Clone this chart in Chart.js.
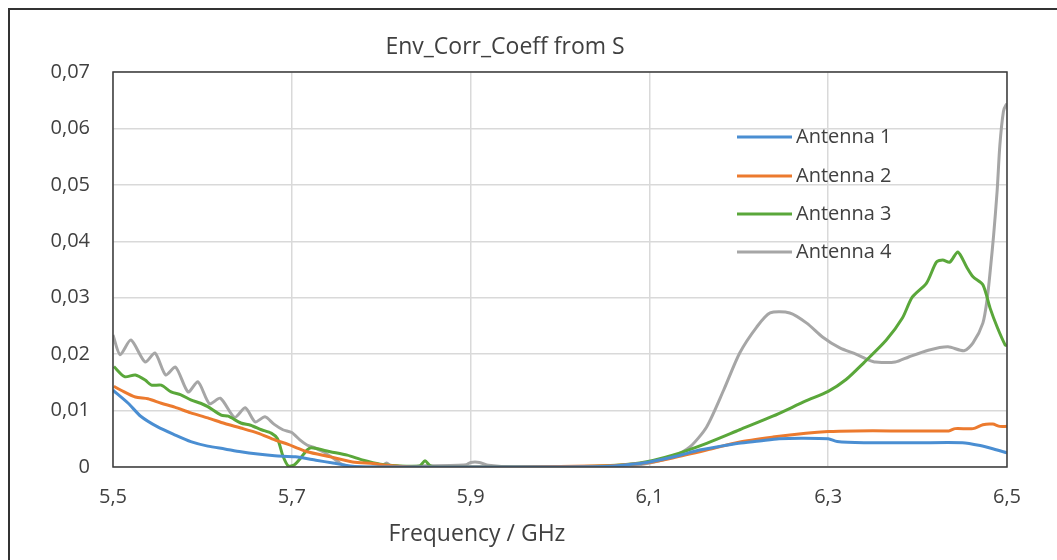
<!DOCTYPE html>
<html>
<head>
<meta charset="utf-8">
<script src="https://cdn.jsdelivr.net/npm/chart.js@4.4.1/dist/chart.umd.min.js"></script>
<style>
  html, body { margin: 0; padding: 0; background: #ffffff; }
  #wrap { width: 1057px; height: 560px; position: relative; }
</style>
</head>
<body>
<div id="wrap"><canvas id="chart" width="1057" height="560"></canvas></div>
<script>
// Envelope correlation coefficient computed from S-parameters, per antenna
const chartTitle = 'Env_Corr_Coeff from S';
const xAxisTitle = 'Frequency / GHz';
const seriesNames = ['Antenna 1', 'Antenna 2', 'Antenna 3', 'Antenna 4'];
const seriesColors = ['#4a8ed2', '#ec7a2e', '#5aa73a', '#a6a6a6'];

const xTicks = [5.5, 5.7, 5.9, 6.1, 6.3, 6.5];
const yTicks = [0, 0.01, 0.02, 0.03, 0.04, 0.05, 0.06, 0.07];

const freq1 = [5.500,5.517,5.531,5.550,5.569,5.587,5.606,5.625,5.643,5.662,5.681,5.704,5.727,5.746,5.765,5.790,5.850,5.950,6.050,6.075,6.100,6.130,6.156,6.180,6.200,6.223,6.245,6.270,6.300,6.310,6.340,6.400,6.450,6.470,6.485,6.500];
const ecc1  = [0.0136,0.0113,0.0090,0.0071,0.0057,0.0045,0.0037,0.0032,0.0027,0.0023,0.0020,0.0018,0.0012,0.0007,0.0002,0.0000,0.0000,0.0000,0.0001,0.0004,0.0009,0.0019,0.0030,0.0037,0.0042,0.0046,0.0050,0.0051,0.0050,0.0045,0.0043,0.0043,0.0043,0.0038,0.0032,0.0025];

const freq2 = [5.501,5.509,5.525,5.539,5.554,5.569,5.587,5.606,5.625,5.643,5.662,5.681,5.696,5.707,5.717,5.743,5.768,5.791,5.806,5.836,5.950,6.050,6.080,6.100,6.126,6.164,6.200,6.238,6.275,6.300,6.330,6.370,6.435,6.442,6.462,6.473,6.484,6.492,6.500];
const ecc2  = [0.0143,0.0136,0.0124,0.0121,0.0113,0.0106,0.0096,0.0087,0.0077,0.0069,0.0060,0.0048,0.0040,0.0033,0.0027,0.0018,0.0009,0.0006,0.0003,0.0000,0.0000,0.0002,0.0005,0.0008,0.0016,0.0030,0.0044,0.0053,0.0060,0.0063,0.0064,0.0064,0.0064,0.0068,0.0068,0.0075,0.0076,0.0072,0.0072];

const freq3 = [5.501,5.513,5.525,5.536,5.543,5.554,5.565,5.576,5.587,5.598,5.606,5.621,5.629,5.643,5.654,5.666,5.677,5.684,5.690,5.696,5.703,5.710,5.717,5.722,5.743,5.762,5.780,5.799,5.818,5.843,5.849,5.855,5.870,6.000,6.050,6.089,6.126,6.164,6.201,6.238,6.275,6.300,6.320,6.340,6.365,6.383,6.394,6.410,6.421,6.428,6.436,6.445,6.455,6.462,6.473,6.481,6.489,6.498,6.500];
const ecc3  = [0.0178,0.0160,0.0163,0.0154,0.0145,0.0145,0.0133,0.0128,0.0119,0.0113,0.0107,0.0092,0.0090,0.0078,0.0074,0.0066,0.0060,0.0050,0.0020,0.0002,0.0004,0.0016,0.0030,0.0034,0.0027,0.0021,0.0012,0.0005,0.0002,0.0002,0.0011,0.0002,0.0000,0.0000,0.0002,0.0007,0.0021,0.0042,0.0066,0.0090,0.0117,0.0134,0.0155,0.0185,0.0225,0.0264,0.0301,0.0326,0.0363,0.0367,0.0363,0.0381,0.0354,0.0337,0.0323,0.0282,0.0248,0.0216,0.0215];

const freq4 = [5.500,5.508,5.520,5.536,5.547,5.559,5.570,5.584,5.595,5.608,5.620,5.636,5.648,5.659,5.670,5.680,5.690,5.700,5.709,5.717,5.724,5.735,5.746,5.757,5.770,5.800,5.806,5.812,5.850,5.895,5.900,5.910,5.920,5.950,6.050,6.089,6.126,6.145,6.164,6.183,6.201,6.220,6.235,6.257,6.276,6.294,6.313,6.331,6.345,6.353,6.375,6.390,6.412,6.434,6.452,6.462,6.473,6.478,6.482,6.485,6.489,6.492,6.496,6.499,6.500];
const ecc4  = [0.0234,0.0199,0.0225,0.0186,0.0202,0.0163,0.0177,0.0133,0.0151,0.0112,0.0122,0.0088,0.0105,0.0080,0.0089,0.0076,0.0066,0.0061,0.0048,0.0039,0.0035,0.0027,0.0016,0.0004,0.0000,0.0001,0.0007,0.0001,0.0002,0.0004,0.0008,0.0008,0.0003,0.0000,0.0001,0.0004,0.0018,0.0035,0.0071,0.0136,0.0202,0.0248,0.0273,0.0273,0.0255,0.0230,0.0211,0.0200,0.0190,0.0186,0.0186,0.0195,0.0207,0.0213,0.0206,0.0220,0.0255,0.0300,0.0360,0.0410,0.0490,0.0570,0.0630,0.0642,0.0640];

const freqs = [freq1, freq2, freq3, freq4];
const values = [ecc1, ecc2, ecc3, ecc4];

const FONT = '"Open Sans", "Noto Sans", sans-serif';
const TEXT = '#404040';

const fmt = v => (Math.abs(v) < 1e-9 ? '0' : Number(v).toFixed(2).replace('.', ','));
const fmtX = v => Number(v).toFixed(1).replace('.', ',');

const datasets = seriesNames.map((name, i) => ({
  label: name,
  data: freqs[i].map((f, k) => ({ x: f, y: values[i][k] })),
  borderColor: seriesColors[i],
  backgroundColor: seriesColors[i],
  borderWidth: 3,
  pointRadius: 0,
  tension: 0.25,
  fill: false
}));

// Frame, titles and in-plot legend
const decor = {
  id: 'decor',
  beforeDraw(chart) {
    const c = chart.ctx;
    c.save();
    c.fillStyle = '#ffffff';
    c.fillRect(0, 0, chart.width, chart.height);
    c.strokeStyle = '#333333';
    c.lineWidth = 2;
    c.beginPath();
    c.moveTo(9, chart.height);
    c.lineTo(9, 9);
    c.lineTo(chart.width, 9);
    c.stroke();
    c.restore();
  },
  afterDraw(chart) {
    const c = chart.ctx;
    const a = chart.chartArea;
    c.save();
    // plot frame
    c.strokeStyle = '#3a3a3a';
    c.lineWidth = 1.5;
    c.strokeRect(a.left, a.top, a.right - a.left, a.bottom - a.top);

    c.fillStyle = TEXT;
    c.textAlign = 'center';
    c.textBaseline = 'middle';
    c.font = '23px ' + FONT;
    c.fillText(chartTitle, 505, 47);
    c.fillText(xAxisTitle, 477, 534);

    // legend
    c.textAlign = 'left';
    c.font = '20px ' + FONT;
    const ly = [137, 176, 214, 252];
    chart.data.datasets.forEach((ds, i) => {
      c.strokeStyle = ds.borderColor;
      c.lineWidth = 3;
      c.beginPath();
      c.moveTo(737, ly[i]);
      c.lineTo(792, ly[i]);
      c.stroke();
      c.fillStyle = TEXT;
      c.fillText(ds.label, 796, ly[i]);
    });
    c.restore();
  }
};

new Chart(document.getElementById('chart'), {
  type: 'line',
  data: { datasets },
  options: {
    responsive: false,
    animation: false,
    events: [],
    layout: { padding: { left: 0, top: 72, right: 50, bottom: 0 } },
    plugins: { legend: { display: false }, title: { display: false }, tooltip: { enabled: false } },
    scales: {
      x: {
        type: 'linear',
        min: xTicks[0],
        max: xTicks[xTicks.length - 1],
        afterBuildTicks(scale) { scale.ticks = xTicks.map(v => ({ value: v })); },
        afterFit(scale) { scale.height = 93; },
        grid: { color: '#d9d9d9', lineWidth: 1.5, drawTicks: false },
        border: { display: false },
        ticks: { callback: v => fmtX(v), color: TEXT, font: { family: FONT, size: 20 }, padding: 18, maxRotation: 0 }
      },
      y: {
        type: 'linear',
        min: yTicks[0],
        max: yTicks[yTicks.length - 1],
        afterBuildTicks(scale) { scale.ticks = yTicks.map(v => ({ value: v })); },
        afterFit(scale) { scale.width = 113; },
        grid: { color: '#d9d9d9', lineWidth: 1.5, drawTicks: false },
        border: { display: false },
        ticks: { callback: v => fmt(v), color: TEXT, font: { family: FONT, size: 20 }, padding: 23 }
      }
    }
  },
  plugins: [decor]
});
</script>
</body>
</html>
